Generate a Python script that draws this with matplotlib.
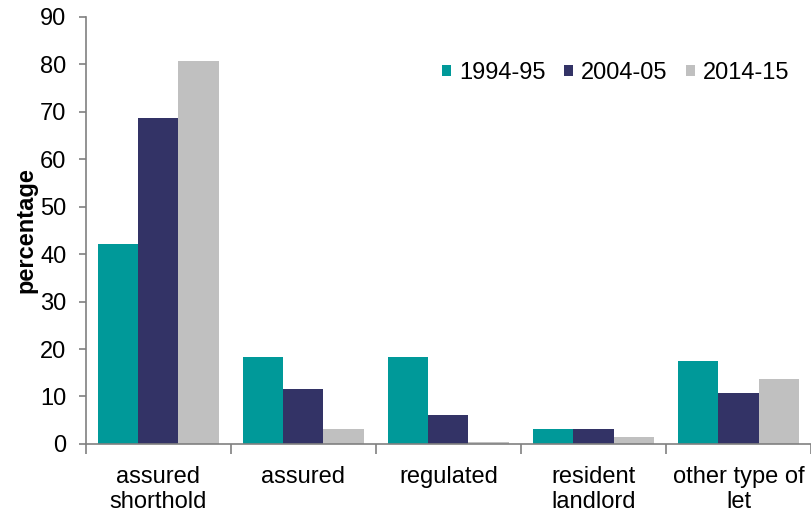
import numpy as np
import matplotlib; matplotlib.use('Agg')
import matplotlib.pyplot as plt

plt.rcParams['font.family'] = ['Liberation Sans', 'DejaVu Sans']

categories = ['assured\nshorthold', 'assured', 'regulated', 'resident\nlandlord', 'other type of\nlet']
series = ['1994-95', '2004-05', '2014-15']
v1994 = [42.2, 18.3, 18.3, 3.1, 17.5]
v2004 = [68.7, 11.6, 6.0, 3.1, 10.7]
v2014 = [80.8, 3.1, 0.5, 1.4, 13.7]
colors = ['#009999', '#333366', '#C0C0C0']

fig = plt.figure(figsize=(8.11, 5.15), dpi=100)
ax = fig.add_axes([0.106, 0.138, 0.894, 0.829])
x = np.arange(len(categories))
w = 0.276
for k, (vals, lab) in enumerate(zip([v1994, v2004, v2014], series)):
    ax.bar(x + (k - 1) * w, vals, w, color=colors[k], label=lab)

ax.set_xlim(-0.5, len(categories) - 0.5)
ax.set_ylim(0, 90)
ax.set_yticks(range(0, 91, 10))
ax.tick_params(axis='y', labelsize=17, length=5, color='#808080', width=1.2, pad=9)
ax.set_xticks(x)
ax.set_xticklabels(categories, fontsize=17, linespacing=1.15)
ax.tick_params(axis='x', which='major', length=0, pad=16)
ax.set_xticks(np.arange(-0.5, len(categories), 1), minor=True)
ax.tick_params(axis='x', which='minor', length=7, color='#808080', width=1.2)
for s in ['top', 'right']:
    ax.spines[s].set_visible(False)
for s in ['left', 'bottom']:
    ax.spines[s].set_color('#808080')
    ax.spines[s].set_linewidth(1.2)
ax.set_ylabel('percentage', fontsize=17, fontweight='bold', labelpad=2)
ax.legend(loc='upper right', bbox_to_anchor=(1.0, 0.945), ncol=3, frameon=False,
          fontsize=17, handlelength=0.36, handleheight=0.36, handletextpad=0.35,
          columnspacing=0.8)

plt.savefig('out.png', dpi=100)
